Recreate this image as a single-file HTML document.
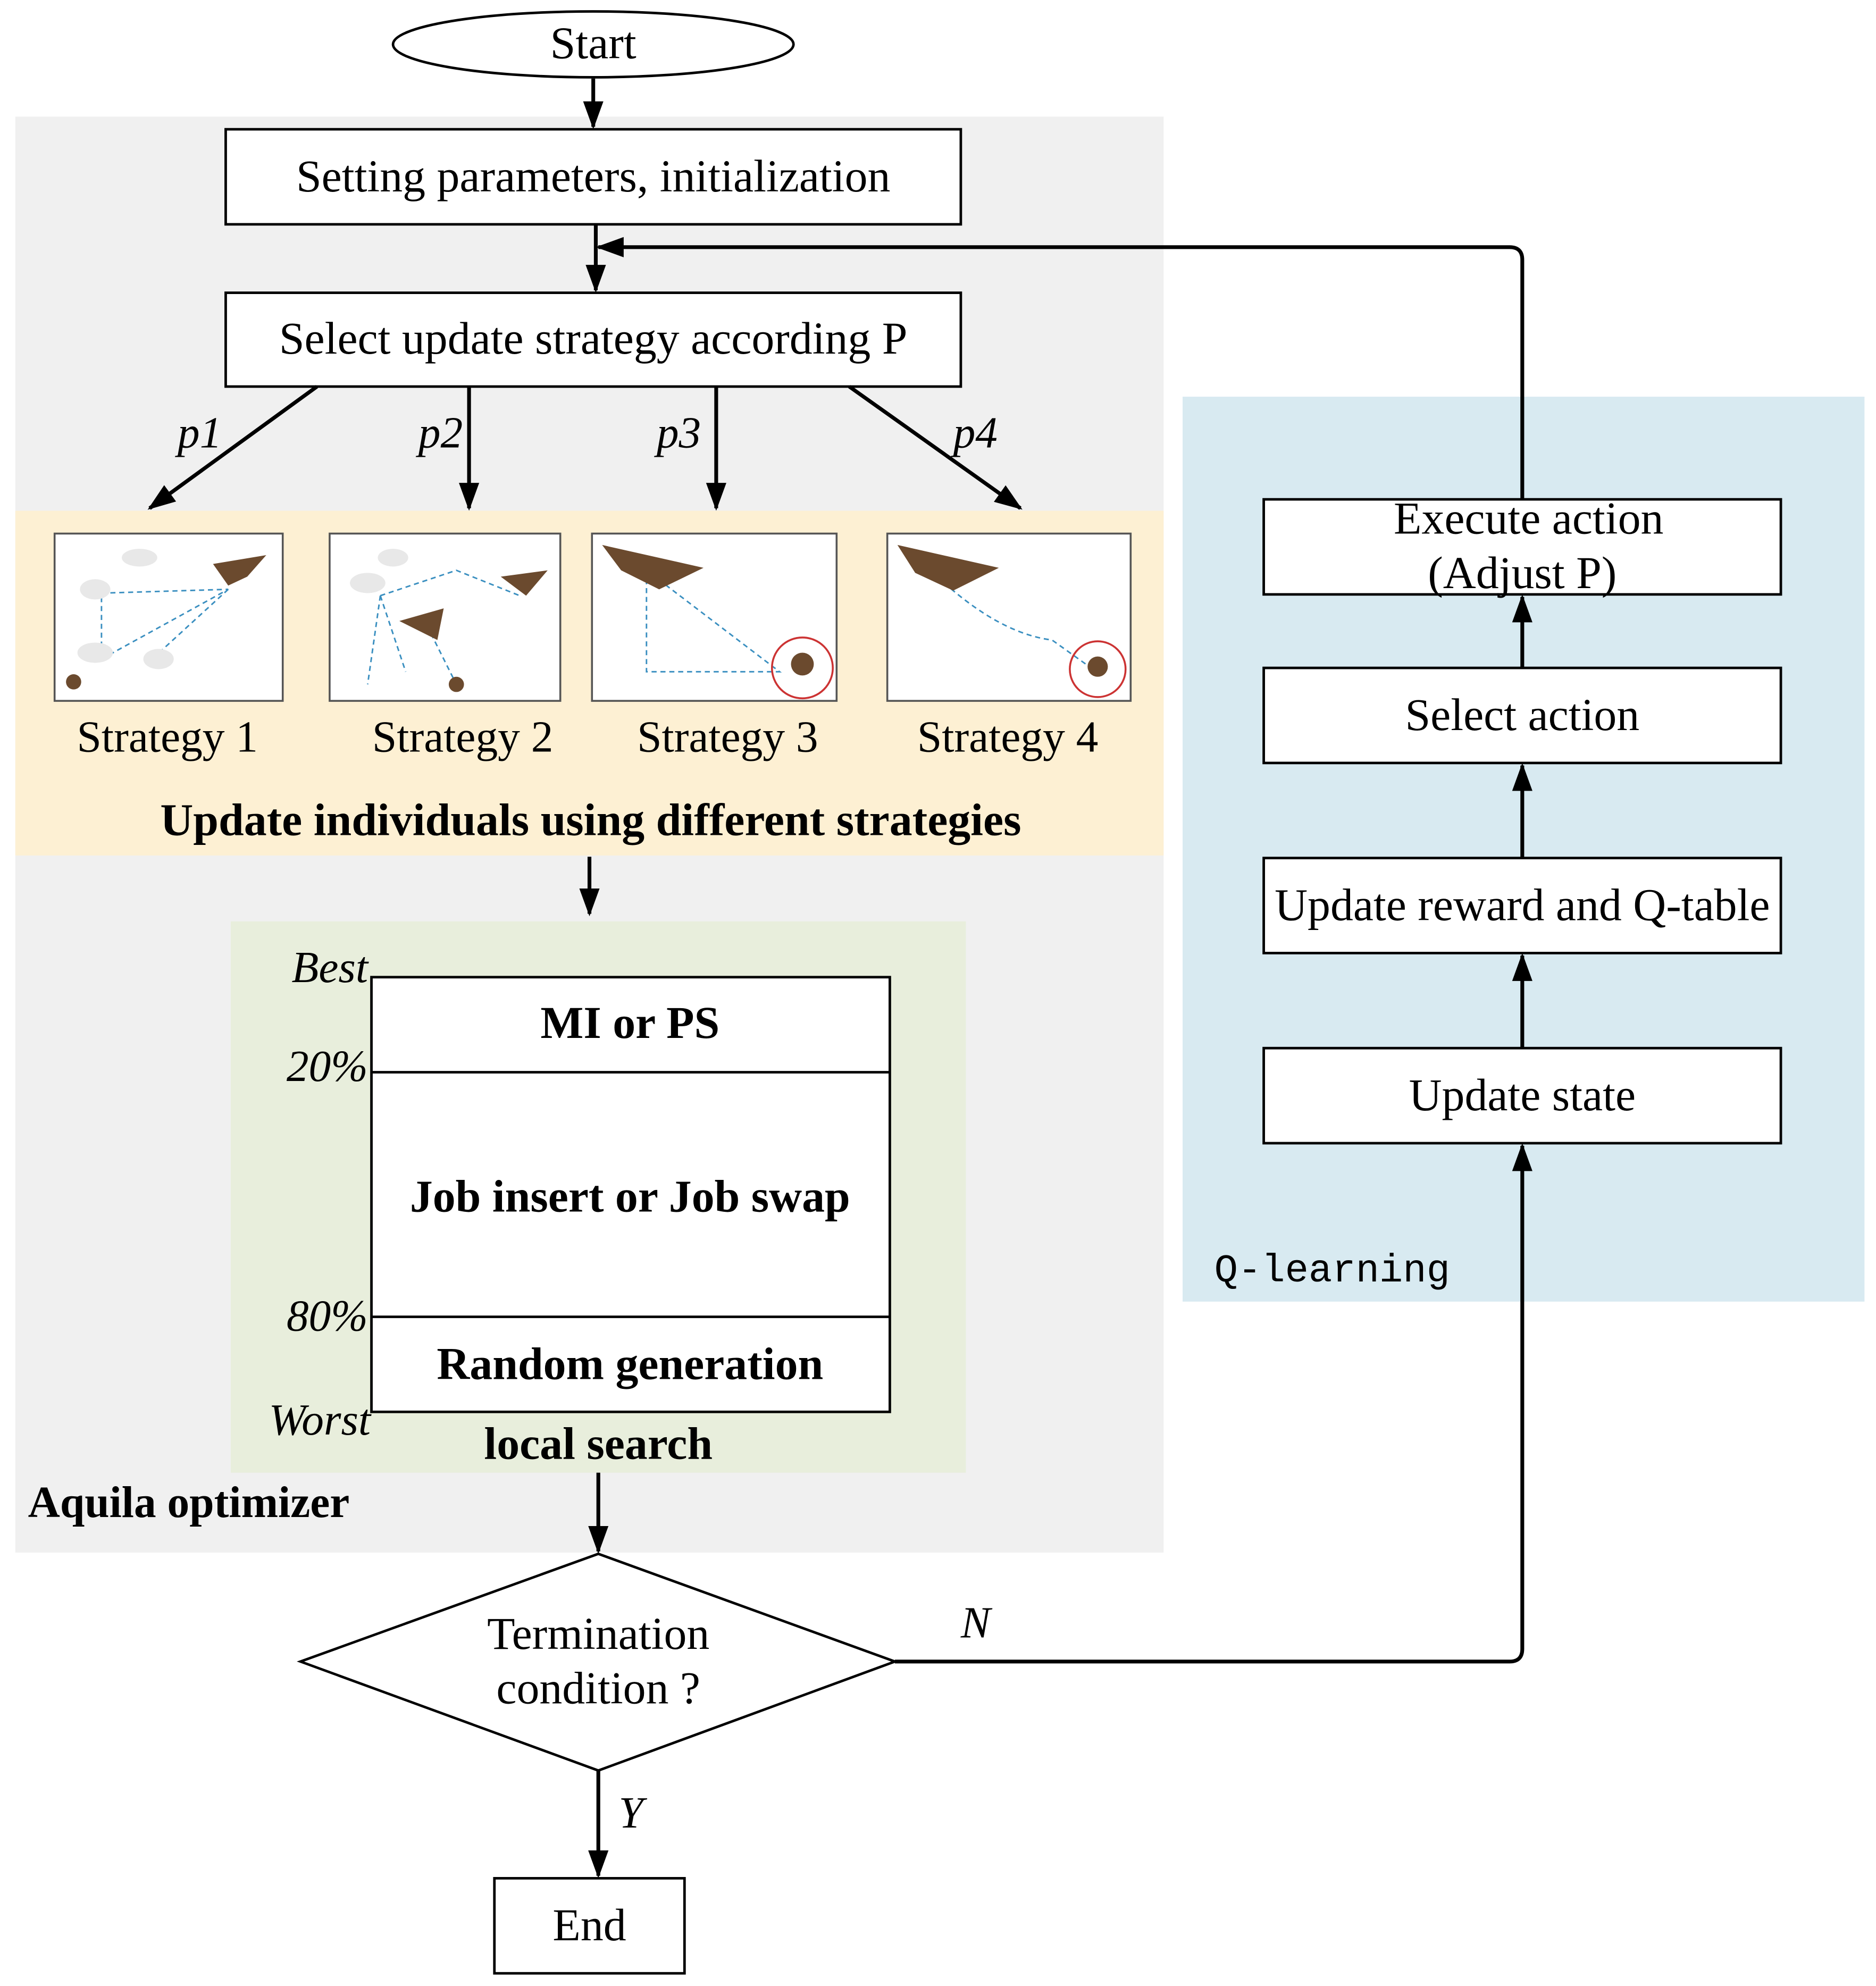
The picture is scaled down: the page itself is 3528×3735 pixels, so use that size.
<!DOCTYPE html>
<html><head><meta charset="utf-8"><style>html,body{margin:0;padding:0;background:#fff}svg{display:block}</style></head>
<body>
<svg xmlns="http://www.w3.org/2000/svg" width="3528" height="3735" viewBox="0 0 1480 1567" font-family="'Liberation Serif', serif">
<defs>
<marker id="b" markerWidth="22" markerHeight="22" refX="20" refY="11" orient="auto" markerUnits="userSpaceOnUse" viewBox="0 0 22 22"><path d="M0,3 L22,11 L0,19 z" fill="#000"/></marker>
</defs>
<rect width="1480" height="1567" fill="#fff"/>
<rect x="12" y="92" width="906" height="1133" fill="#f0f0f0"/>
<rect x="12" y="403" width="906" height="272" fill="#fdf0d3"/>
<rect x="182" y="727" width="580" height="435" fill="#e8eedc"/>
<rect x="933" y="313" width="538" height="714" fill="#d8eaf1"/>

<g stroke="#000" stroke-width="2" fill="#fff">
<ellipse cx="468" cy="35" rx="158" ry="26"/>
<rect x="178" y="102" width="580" height="75"/>
<rect x="178" y="231" width="580" height="74"/>
<rect x="293" y="771" width="409" height="343"/>
<line x1="293" y1="846" x2="702" y2="846"/>
<line x1="293" y1="1039" x2="702" y2="1039"/>
<polygon points="472,1226 706,1311 472,1397 237,1311"/>
<rect x="390" y="1482" width="150" height="75"/>
<rect x="997" y="394" width="408" height="75"/>
<rect x="997" y="527" width="408" height="75"/>
<rect x="997" y="677" width="408" height="75"/>
<rect x="997" y="827" width="408" height="75"/>
</g>

<g stroke="#555" stroke-width="1.5" fill="#fff">
<rect x="43" y="421" width="180" height="132"/>
<rect x="260" y="421" width="182" height="132"/>
<rect x="467" y="421" width="193" height="132"/>
<rect x="700" y="421" width="192" height="132"/>
</g>
<g fill="none" stroke="#3a8fc0" stroke-width="1.2" stroke-dasharray="4,3">
<path d="M80,468 L180,465 L80,520 Z M180,465 L120,520"/>
<path d="M300,470 L360,450 L410,470 M300,470 L290,540 M300,470 L320,530 M340,500 L360,540"/>
<path d="M510,450 L510,530 L615,530 L510,450"/>
<path d="M745,460 Q790,500 830,505 L865,530"/>
</g>
<circle cx="633" cy="527" r="24" fill="none" stroke="#c33" stroke-width="1.5"/>
<circle cx="866" cy="528" r="22" fill="none" stroke="#c33" stroke-width="1.5"/>
<g fill="#6b4a2e">
<path d="M168,445 L210,438 L195,455 L180,462 Z"/>
<path d="M395,455 L432,450 L415,470 Z"/>
<path d="M315,490 L350,480 L345,505 Z"/>
<path d="M475,430 L555,448 L520,465 L490,450 Z"/>
<path d="M708,430 L788,448 L752,466 L722,452 Z"/>
<circle cx="58" cy="538" r="6"/><circle cx="360" cy="540" r="6"/>
<circle cx="633" cy="524" r="9"/><circle cx="866" cy="526" r="8"/>
</g>
<g fill="#e8e8e8">
<ellipse cx="75" cy="465" rx="12" ry="8"/><ellipse cx="110" cy="440" rx="14" ry="7"/>
<ellipse cx="75" cy="515" rx="14" ry="8"/><ellipse cx="125" cy="520" rx="12" ry="8"/>
<ellipse cx="290" cy="460" rx="14" ry="8"/><ellipse cx="310" cy="440" rx="12" ry="7"/>
</g>

<g stroke="#000" stroke-width="3" fill="none" marker-end="url(#b)">
<line x1="468" y1="62" x2="468" y2="100"/>
<line x1="470" y1="177" x2="470" y2="229"/>
<path d="M1201,394 L1201,205 Q1201,195 1191,195 L472,195"/>
<line x1="250" y1="305" x2="118" y2="401"/>
<line x1="370" y1="305" x2="370" y2="401"/>
<line x1="565" y1="305" x2="565" y2="401"/>
<line x1="670" y1="305" x2="805" y2="401"/>
<line x1="465" y1="676" x2="465" y2="721"/>
<line x1="472" y1="1162" x2="472" y2="1224"/>
<line x1="472" y1="1397" x2="472" y2="1480"/>
<path d="M706,1311 L1191,1311 Q1201,1311 1201,1301 L1201,904"/>
<line x1="1201" y1="827" x2="1201" y2="754"/>
<line x1="1201" y1="677" x2="1201" y2="604"/>
<line x1="1201" y1="527" x2="1201" y2="471"/>
</g>

<g font-size="36" text-anchor="middle" fill="#000">
<text x="468" y="46">Start</text>
<text x="468" y="151">Setting parameters, initialization</text>
<text x="468" y="279">Select update strategy according P</text>
<text x="472" y="1301">Termination</text>
<text x="472" y="1344">condition ?</text>
<text x="465" y="1531">End</text>
<text x="1206" y="421">Execute action</text>
<text x="1201" y="464">(Adjust P)</text>
<text x="1201" y="576">Select action</text>
<text x="1201" y="726">Update reward and Q-table</text>
<text x="1201" y="876">Update state</text>
</g>
<g font-size="35" text-anchor="middle" fill="#000">
<text x="132" y="593">Strategy 1</text>
<text x="365" y="593">Strategy 2</text>
<text x="574" y="593">Strategy 3</text>
<text x="795" y="593">Strategy 4</text>
</g>
<g font-size="35" font-style="italic" fill="#000">
<text x="140" y="353">p1</text>
<text x="330" y="353">p2</text>
<text x="518" y="353">p3</text>
<text x="752" y="353">p4</text>
<text x="230" y="775">Best</text>
<text x="226" y="853">20%</text>
<text x="226" y="1050">80%</text>
<text x="212" y="1132">Worst</text>
<text x="758" y="1292">N</text>
<text x="488" y="1442">Y</text>
</g>
<g font-size="36" font-weight="bold" text-anchor="middle" fill="#000">
<text x="466" y="659">Update individuals using different strategies</text>
<text x="497" y="819">MI or PS</text>
<text x="497" y="956">Job insert or Job swap</text>
<text x="497" y="1088">Random generation</text>
<text x="472" y="1151">local search</text>
</g>
<text x="22" y="1197" font-size="35" font-weight="bold">Aquila optimizer</text>
<text x="958" y="1011" font-size="31" font-family="'Liberation Mono', monospace">Q-learning</text>
</svg>
</body></html>
